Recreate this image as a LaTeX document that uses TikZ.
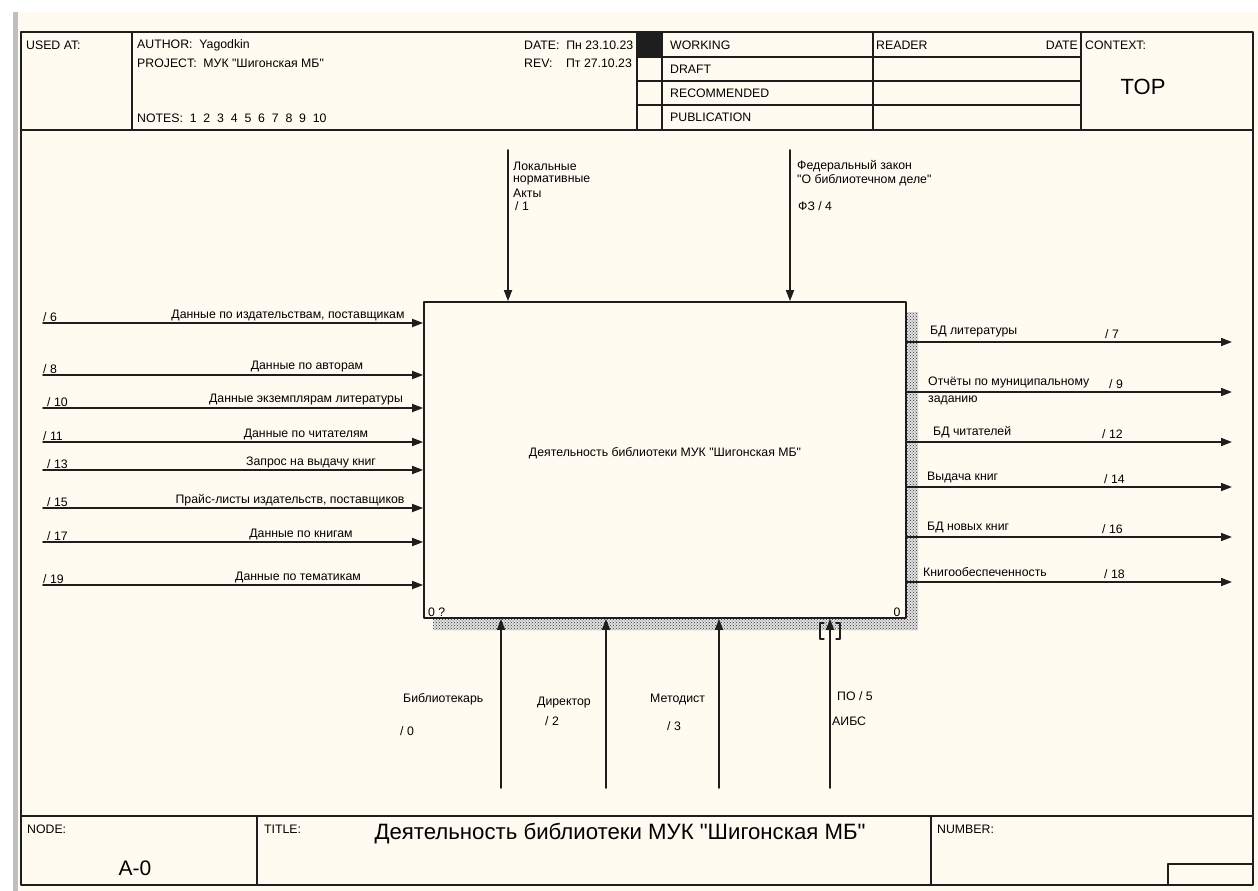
\documentclass[tikz,border=0pt]{standalone}
\usepackage{fontspec}
\setmainfont{Liberation Sans}[Ligatures=TeXOff]
\usepackage{xcolor}
\usetikzlibrary{arrows.meta, patterns}

\definecolor{paper}{RGB}{255,251,240}
\definecolor{ink}{RGB}{30,30,30}

\begin{document}
\begin{tikzpicture}[x=1pt, y=-1pt, line cap=round, line join=round,
    txt/.style={font=\fontsize{12.3}{14}\selectfont, inner sep=0pt, text=black},
    txtw/.style={txt, anchor=west},
    frm/.style={draw=ink, line width=1.7pt},
    arr/.style={draw=ink, line width=1.7pt, -{Triangle[length=11pt,width=8pt]}}]
\useasboundingbox (0,0) rectangle (1258,891);
% background and window edge
\fill[white] (0,0) rectangle (1258,891);
\fill[paper] (13,12) rectangle (1258,891);
\fill[black!25] (13,12) rectangle (18,891);

% header
\draw[frm] (21,32) rectangle (1253,885);
\draw[frm] (21,130) -- (1253,130) (21,816) -- (1253,816);
\draw[frm] (132,32) -- (132,130) (637,32) -- (637,130) (662,32) -- (662,130)
    (873,32) -- (873,130) (1081,32) -- (1081,130);
\foreach \yy in {57,81,105} \draw[frm] (637,\yy) -- (1081,\yy);
\fill[ink] (637,32) rectangle (662,57);
\node[txtw] (usedat) at (26,45) {USED AT:};
\node[txtw] (author) at (137,45) {AUTHOR:\ \ Yagodkin};
\node[txtw] (project) at (137,63) {PROJECT:\ \ МУК "Шигонская МБ"};
\node[txtw] (notes) at (137,118) {NOTES:\ \ 1\ \ 2\ \ 3\ \ 4\ \ 5\ \ 6\ \ 7\ \ 8\ \ 9\ \ 10};
\node[txtw] (date) at (524,45) {DATE:\ \ Пн 23.10.23};
\node[txtw] (rev) at (524,63) {REV:\ \ \ \ Пт 27.10.23};
\node[txtw] (working) at (670,45) {WORKING};
\node[txtw] (draft) at (670,69) {DRAFT};
\node[txtw] (recom) at (670,93) {RECOMMENDED};
\node[txtw] (public) at (670,117) {PUBLICATION};
\node[txtw] (reader) at (876,45) {READER};
\node[txt, anchor=east] (rdate) at (1078,45) {DATE};
\node[txtw] (context) at (1085,45) {CONTEXT:};
\node[txt, font=\fontsize{22}{24}\selectfont] (top) at (1143,87) {TOP};

% footer
\draw[frm] (257,816) -- (257,885) (931,816) -- (931,885);
\draw[frm] (1168,885) -- (1168,864) -- (1253,864);
\node[txtw] (nodelbl) at (27,829) {NODE:};
\node[txt, font=\fontsize{21}{24}\selectfont] (nodeno) at (135,868) {A-0};
\node[txtw] (titlelbl) at (264,829) {TITLE:};
\node[txt, font=\fontsize{22.2}{24}\selectfont] (title) at (620,834) {Деятельность библиотеки МУК "Шигонская МБ"};
\node[txtw] (numlbl) at (937,829) {NUMBER:};

% activity box with shadow
\fill[black!12] (906,312) rectangle (918,630) (433,618) rectangle (906,630);
\fill[pattern=crosshatch dots, pattern color=black!80] (906,312) rectangle (918,630) (433,618) rectangle (906,630);
\node[frm, fill=paper, minimum width=482pt, minimum height=316pt, inner sep=0pt] (act) at (665,460) {};
\node[txt] (actname) at (665,453) {Деятельность библиотеки МУК "Шигонская МБ"};
\node[txtw] (actno) at (428,612) {0 ?};
\node[txt] (actcost) at (897,612) {0};

% inputs
\foreach \yy/\nn/\nx/\cx/\lbl in {323/6/43/288/{Данные по издательствам, поставщикам},
    375/8/43/307/{Данные по авторам}, 408/10/47/306/{Данные экземплярам литературы},
    442/11/43/306/{Данные по читателям}, 470/13/47/311/{Запрос на выдачу книг},
    508/15/47/290/{Прайс-листы издательств, поставщиков}, 542/17/47/301/{Данные по книгам},
    585/19/43/298/{Данные по тематикам}}{
  \coordinate (src\nn) at (43,\yy);
  \draw[arr] (src\nn) -- (src\nn -| act.west);
  \node[txt] (lin\nn) at (\cx,\yy-8) {\lbl};
  \node[txtw] (nin\nn) at (\nx,\yy-6) {/ \nn};
}

% outputs
\foreach \yy/\nn/\lx/\nx/\lbl in {342/7/930/1105/{БД литературы},
    392/9/928/1109/{Отчёты по муниципальному}, 442/12/933/1102/{БД читателей},
    487/14/927/1104/{Выдача книг}, 537/16/927/1102/{БД новых книг},
    582/18/923/1104/{Книгообеспеченность}}{
  \coordinate (dst\nn) at (1232,\yy);
  \draw[arr] (act.east |- dst\nn) -- (dst\nn);
  \node[txtw] (lout\nn) at (\lx,\yy-10) {\lbl};
  \node[txtw] (nout\nn) at (\nx,\yy-8) {/ \nn};
}
\node[txtw] (lout9b) at (928,400) {заданию};

% controls
\coordinate (ctl1) at (508,150);
\coordinate (ctl4) at (790,150);
\draw[arr] (ctl1) -- (ctl1 |- act.north);
\draw[arr] (ctl4) -- (ctl4 |- act.north);
\node[txtw] (lctl1a) at (513,166) {Локальные};
\node[txtw] (lctl1b) at (513,180) {нормативные};
\node[txtw] (lctl1c) at (513,193) {Акты};
\node[txtw] (lctl1d) at (515,206) {/ 1};
\node[txtw] (lctl4a) at (797,166) {Федеральный закон};
\node[txtw] (lctl4b) at (797,180) {"О библиотечном деле"};
\node[txtw] (lctl4c) at (798,206) {ФЗ / 4};

% mechanisms
\foreach \xx/\nn in {501/0, 606/2, 719/3, 830/5}{
  \coordinate (mec\nn) at (\xx,788);
  \draw[arr] (mec\nn) -- (mec\nn |- act.south);
}
\draw[ink, line width=1.3pt] (824,623) -- (820,623) -- (820,639) -- (824,639)
    (836,623) -- (840,623) -- (840,639) -- (836,639);
\node[txtw] (lmec0a) at (403,699) {Библиотекарь};
\node[txtw] (lmec0b) at (400,731) {/ 0};
\node[txtw] (lmec2a) at (537,703) {Директор};
\node[txtw] (lmec2b) at (545,721) {/ 2};
\node[txtw] (lmec3a) at (650,699) {Методист};
\node[txtw] (lmec3b) at (667,726) {/ 3};
\node[txtw] (lmec5a) at (837,696) {ПО / 5};
\node[txtw] (lmec5b) at (832,721) {АИБС};
\end{tikzpicture}
\end{document}
